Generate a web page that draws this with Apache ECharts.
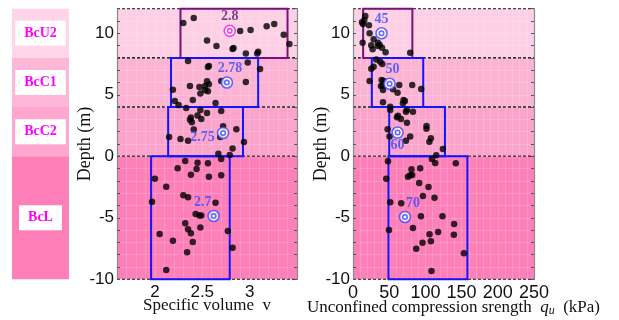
<!DOCTYPE html>
<html><head><meta charset="utf-8">
<script src="https://cdn.jsdelivr.net/npm/echarts@6/dist/echarts.min.js"></script>
<style>html,body{margin:0;padding:0;background:#fff}#c{width:619px;height:320px}</style>
</head><body><div id="c"></div>
<script>
// ---- data ----
const layers = ['BcU2', 'BcC1', 'BcC2', 'BcL'];
const layerTop = [12, 8, 4, 0];
const layerBottom = [8, 4, 0, -10];
const vBoxMin = [2.27, 2.17, 2.14, 1.96];
const vBoxMax = [3.40, 3.09, 2.93, 2.79];
const qBoxMin = [14, 26, 50, 49];
const qBoxMax = [82, 97, 127, 158];
const vMean = [[2.79, 10.2], [2.76, 6.0], [2.72, 1.9], [2.62, -4.85]];
const vMeanLabel = ['2.8', '2.78', '2.75', '2.7'];
const qMean = [[39.4, 10.0], [50.5, 5.9], [61.6, 1.93], [71.8, -4.93]];
const qMeanLabel = ['45', '50', '60', '70'];
const vTickLabels = [2, 2.5, 3];
const depthTickLabels = [-10, -5, 0, 5, 10];
const vPoints = [
  [2.30,10.84],[2.41,11.24],[2.55,9.41],[2.65,8.97],[2.82,8.72],[2.83,8.80],[2.90,10.19],[3.01,10.27],
  [2.96,8.35],[3.08,8.35],[3.09,8.51],[3.18,10.57],[3.26,10.76],[3.36,9.89],[3.42,9.13],
  [2.35,7.74],[2.56,7.26],[2.57,7.34],[2.19,5.42],[2.37,5.72],[2.47,5.64],[2.53,5.72],[2.55,6.10],
  [2.57,5.85],[2.53,5.37],[2.56,5.29],[2.48,5.10],[2.70,6.12],[2.96,6.04],[2.98,7.62],[3.11,7.10],
  [2.21,4.50],[2.25,4.17],[2.40,4.58],[2.64,4.33],
  [2.33,3.93],[2.38,3.15],[2.37,2.98],[2.39,2.77],[2.45,3.31],[2.49,3.04],[2.48,3.76],[2.55,3.52],
  [2.70,3.68],[2.41,2.17],[2.72,2.44],[2.86,2.20],[2.15,1.56],[2.27,1.41],[2.35,1.27],[2.69,1.57],
  [2.82,0.64],[2.94,1.16],[2.67,0.21],[2.79,0.11],
  [2.70,-0.22],[2.32,-0.38],[2.45,-0.52],[2.56,-0.57],[2.24,-0.97],[2.44,-1.03],[2.38,-1.49],
  [2.57,-1.66],[2.70,-1.55],[2.00,-1.83],[2.12,-2.47],[2.30,-3.17],[2.35,-3.33],[1.97,-3.69],
  [2.64,-3.77],[2.43,-4.69],[2.47,-4.82],[2.49,-4.82],[2.32,-5.44],[2.48,-5.79],[2.35,-5.93],
  [2.38,-6.26],[2.05,-6.31],[2.77,-6.08],[2.19,-6.86],[2.40,-6.97],[2.82,-7.43],[2.34,-7.80],[2.12,-9.24]
];
const qPoints = [
  [17.0,11.41],[15.6,11.08],[12.4,10.89],[13.8,10.76],[22.0,10.65],[22.9,10.0],[13.3,9.24],[28.5,9.51],
  [25.2,9.02],[27.1,8.70],[34.4,9.24],[36.8,9.07],[34.4,8.97],[40.0,8.83],[45.0,8.45],[79.0,8.42],
  [32.1,7.88],[37.6,7.69],[40.4,7.50],[28.5,7.28],[25.2,7.12],[22.9,6.12],[39.5,6.20],[42.3,6.12],
  [40.8,5.74],[38.6,5.72],[41.4,5.39],[55.2,5.45],[61.5,5.17],[63.9,5.80],[81.8,5.80],[94.2,5.47],
  [69.8,4.58],[71.7,4.50],[69.0,4.31],[41.4,4.39],[51.4,4.03],
  [51.4,3.76],[74.5,3.76],[73.1,3.63],[82.8,3.63],[62.1,3.30],[60.7,3.17],[66.2,3.03],[74.5,2.73],
  [47.8,2.20],[50.5,1.60],[79.0,1.60],[73.1,1.27],[101.5,2.46],[101.5,2.25],[107.6,1.46],[105.5,1.19],
  [124.1,0.59],[114.9,0.08],
  [109.0,-0.22],[113.5,-0.54],[142.0,-0.57],[48.3,-0.41],[92.8,-0.98],[80.8,-1.06],[45.9,-1.82],
  [75.9,-1.66],[79.0,-1.55],[81.8,-1.52],[91.4,-2.17],[104.3,-2.50],[96.6,-3.23],[112.6,-3.36],
  [51.4,-3.74],[66.6,-3.82],[93.8,-4.88],[123.6,-4.88],[139.7,-5.50],[49.7,-5.99],[82.8,-5.83],
  [105.7,-6.34],[117.7,-6.15],[139.3,-6.37],[96.0,-7.03],[107.6,-6.91],[87.3,-7.51],[153.1,-7.89],[108.4,-9.32]
];

// ---- styles ----
const colBandColors = ['#ffd5e7', '#ffb7d7', '#ffa7ce', '#ff80b8'];
const plotBandColors = ['#fdd0e5', '#fcb4d5', '#fca5cc', '#fe80b9'];
const boxColors = ['#7b107b', '#1414ff', '#1414ff', '#1414ff'];
const serif = "'Liberation Serif','Times New Roman',serif";
const sans = "'Liberation Sans',Arial,sans-serif";
const GT = 8.7, GH = 270.6;

const bandData = layers.map((n, i) => [i, layerTop[i], layerBottom[i]]);

function bandRender(xMinVal) {
  return function (params, api) {
    const cs = params.coordSys;
    const y1 = api.coord([xMinVal, api.value(1)])[1];
    const y2 = api.coord([xMinVal, api.value(2)])[1];
    const dash = { stroke: '#222', lineWidth: 1.2, lineDash: [3, 2] };
    return { type: 'group', children: [
      { type: 'rect', shape: { x: cs.x, y: y1, width: cs.width, height: y2 - y1 }, style: { fill: plotBandColors[params.dataIndex] } },
      { type: 'line', z2: 5, shape: { x1: cs.x, y1: y1, x2: cs.x + cs.width, y2: y1 }, style: dash },
      { type: 'line', z2: 5, shape: { x1: cs.x, y1: y2, x2: cs.x + cs.width, y2: y2 }, style: dash }
    ] };
  };
}
function boxRender(params, api) {
  const p1 = api.coord([api.value(0), api.value(2)]);
  const p2 = api.coord([api.value(1), api.value(3)]);
  return { type: 'rect', shape: { x: p1[0], y: p1[1], width: p2[0] - p1[0], height: p2[1] - p1[1] },
    style: { fill: 'none', stroke: boxColors[params.dataIndex], lineWidth: 2 } };
}
function colRender(params, api) {
  const cs = params.coordSys;
  const y1 = api.coord([0, api.value(1)])[1];
  const y2 = api.coord([0, api.value(2)])[1];
  return { type: 'group', children: [
    { type: 'rect', shape: { x: cs.x, y: y1, width: cs.width, height: y2 - y1 }, style: { fill: colBandColors[params.dataIndex] } },
    { type: 'text', z2: 5, style: { text: layers[params.dataIndex], x: cs.x + cs.width / 2, y: (y1 + y2) / 2,
      align: 'center', verticalAlign: 'middle', fill: '#ff00ff', font: "bold 14px " + serif,
      backgroundColor: '#fff', padding: [6, 9, 5, 9] } }
  ] };
}

const vLabelPos = [{ position: 'top', distance: 1 }, { position: 'top', distance: 1, offset: [3, 0] },
  { position: 'left', distance: 2, offset: [0, 4] }, { position: 'top', distance: 0, offset: [-11, 0] }];
const qLabelPos = [{ position: 'top', distance: 1 }, { position: 'top', distance: 1, offset: [3, 0] },
  { position: 'bottom', distance: 0 }, { position: 'top', distance: 0, offset: [8, 0] }];
const vLabelColors = ['#5a1a78', '#3a48ff', '#3a48ff', '#3a48ff'];
const meanColorsV = ['#e020e0', '#3a48ff', '#3a48ff', '#3a48ff'];

function meanSeries(xi, yi, pts, labels, pos, colors, lcolors) {
  const outer = {
    type: 'scatter', xAxisIndex: xi, yAxisIndex: yi, z: 6, symbol: 'circle', symbolSize: 11,
    data: pts.map((p, i) => ({ value: p, itemStyle: { color: '#fff', borderColor: colors[i], borderWidth: 1.6 },
      label: Object.assign({ show: true, formatter: labels[i], color: lcolors[i], fontFamily: serif, fontWeight: 'bold', fontSize: 14 }, pos[i]) })),
    silent: true
  };
  const inner = {
    type: 'scatter', xAxisIndex: xi, yAxisIndex: yi, z: 7, symbol: 'circle', symbolSize: 4.5,
    data: pts.map((p, i) => ({ value: p, itemStyle: { color: '#fff', borderColor: colors[i], borderWidth: 1.6 } })),
    silent: true
  };
  return [outer, inner];
}

const faint = 'rgba(255,255,255,0.16)';
function depthAxis(gi, right) {
  return {
    gridIndex: gi, type: 'value', min: -10, max: 12, interval: 1, z: 1, position: right ? 'right' : 'left',
    name: right ? '' : 'Depth (m)', nameLocation: 'middle', nameGap: 23, nameMoveOverlap: false,
    nameTextStyle: { fontFamily: serif, fontSize: 18, color: '#111' },
    axisLine: { show: true, lineStyle: { color: '#8a8a8a', width: 1.2 } },
    axisTick: { show: true, inside: true, length: 3, lineStyle: { color: '#555' } },
    axisLabel: { show: !right, margin: 3, fontFamily: sans, fontSize: 17, color: '#111',
      formatter: v => depthTickLabels.includes(Math.round(v)) ? String(Math.round(v)) : '' },
    splitLine: { show: !right, lineStyle: { color: faint, width: 1 } }
  };
}

const option = {
  animation: false,
  grid: [
    { left: 12, top: GT, width: 57, height: GH, outerBoundsMode: 'none', containLabel: false },
    { left: 117, top: GT, width: 180, height: GH, outerBoundsMode: 'none', containLabel: false },
    { left: 353, top: GT, width: 181, height: GH, outerBoundsMode: 'none', containLabel: false }
  ],
  xAxis: [
    { gridIndex: 0, type: 'value', min: 0, max: 1, show: false },
    { gridIndex: 1, type: 'value', min: 1.6, max: 3.5, interval: 0.1, z: 1,
      name: 'Specific volume  v', nameLocation: 'middle', nameGap: 18, nameMoveOverlap: false,
      nameTextStyle: { fontFamily: serif, fontSize: 17, color: '#111' },
      axisLine: { show: false }, axisTick: { show: false },
      axisLabel: { margin: 5, fontFamily: sans, fontSize: 17, color: '#111',
        formatter: v => { const r = Math.round(v * 10) / 10; return vTickLabels.includes(r) ? String(r) : ''; } },
      splitLine: { show: true, lineStyle: { color: faint } } },
    { gridIndex: 2, type: 'value', min: 0, max: 250, interval: 50, z: 1,
      name: '{n|Unconfined compression srength  }{q|q}{s|u}{n|  (kPa)}', nameLocation: 'middle', nameGap: 18, nameMoveOverlap: false,
      nameTextStyle: { padding: [0, 0, 0, 20], rich: {
        n: { fontFamily: serif, fontSize: 17, color: '#111', lineHeight: 20 },
        q: { fontFamily: serif, fontSize: 17, fontStyle: 'italic', color: '#111', lineHeight: 20 },
        s: { fontFamily: serif, fontSize: 12, fontStyle: 'italic', color: '#111', verticalAlign: 'bottom', lineHeight: 14, padding: [8, 0, 0, 0] } } },
      axisLine: { show: false }, axisTick: { show: false },
      axisLabel: { margin: 5, fontFamily: sans, fontSize: 18, color: '#111' },
      splitLine: { show: true, lineStyle: { color: faint } },
      minorSplitLine: { show: true, lineStyle: { color: faint } }, minorTick: { show: false, splitNumber: 5 } }
  ],
  yAxis: [
    { gridIndex: 0, type: 'value', min: -10, max: 12, show: false },
    depthAxis(1, false), depthAxis(1, true),
    depthAxis(2, false), depthAxis(2, true)
  ],
  series: [
    { type: 'custom', xAxisIndex: 0, yAxisIndex: 0, z: 0, silent: true, renderItem: colRender, data: bandData },
    { type: 'custom', xAxisIndex: 1, yAxisIndex: 1, z: 0, silent: true, renderItem: bandRender(1.6), data: bandData },
    { type: 'custom', xAxisIndex: 2, yAxisIndex: 3, z: 0, silent: true, renderItem: bandRender(0), data: bandData },
    { type: 'custom', xAxisIndex: 1, yAxisIndex: 1, z: 3, silent: true, renderItem: boxRender,
      data: layers.map((n, i) => [vBoxMin[i], vBoxMax[i], layerTop[i], layerBottom[i]]) },
    { type: 'custom', xAxisIndex: 2, yAxisIndex: 3, z: 3, silent: true, renderItem: boxRender,
      data: layers.map((n, i) => [qBoxMin[i], qBoxMax[i], layerTop[i], layerBottom[i]]) },
    { type: 'scatter', xAxisIndex: 1, yAxisIndex: 1, z: 4, symbolSize: 6.5, itemStyle: { color: '#000' }, data: vPoints, silent: true },
    { type: 'scatter', xAxisIndex: 2, yAxisIndex: 3, z: 4, symbolSize: 6.5, itemStyle: { color: '#000' }, data: qPoints, silent: true },
    ...meanSeries(1, 1, vMean, vMeanLabel, vLabelPos, meanColorsV, vLabelColors),
    ...meanSeries(2, 3, qMean, qMeanLabel, qLabelPos, ['#3a48ff', '#3a48ff', '#3a48ff', '#3a48ff'], ['#3a48ff', '#3a48ff', '#3a48ff', '#3a48ff'])
  ]
};
const chart = echarts.init(document.getElementById('c'), null, { renderer: 'canvas' });
chart.setOption(option);
</script>
</body></html>
